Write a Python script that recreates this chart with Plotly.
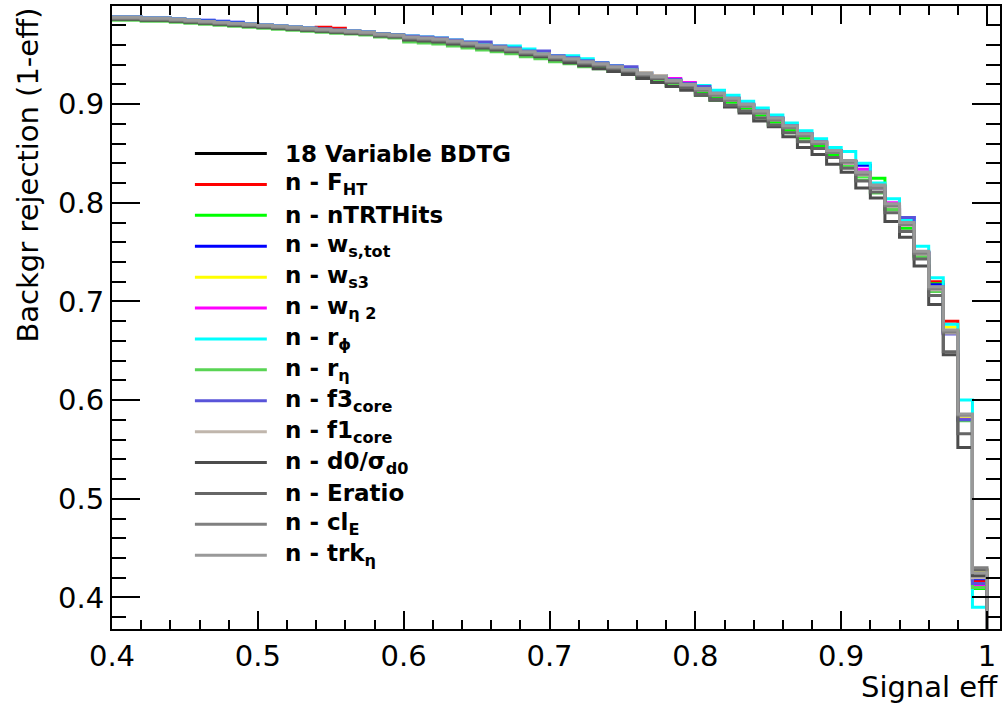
import plotly.graph_objects as go

# ROC-style curves: background rejection per signal-efficiency bin (0.40 ... 0.99, width 0.01)
bin_start = 0.40
bin_width = 0.01

bdtg18 = [0.988, 0.988, 0.987, 0.987, 0.986, 0.985, 0.984, 0.983, 0.982, 0.981,
          0.980, 0.979, 0.978, 0.977, 0.976, 0.975, 0.974, 0.973, 0.971, 0.970,
          0.968, 0.967, 0.966, 0.964, 0.962, 0.960, 0.958, 0.956, 0.953, 0.951,
          0.948, 0.946, 0.943, 0.941, 0.938, 0.935, 0.931, 0.928, 0.924, 0.920,
          0.915, 0.910, 0.905, 0.899, 0.892, 0.885, 0.877, 0.869, 0.861, 0.852,
          0.842, 0.830, 0.817, 0.798, 0.779, 0.750, 0.714, 0.670, 0.583, 0.418]
no_fht = [0.987, 0.987, 0.986, 0.986, 0.985, 0.984, 0.983, 0.982, 0.981, 0.980,
          0.979, 0.978, 0.977, 0.976, 0.978, 0.977, 0.973, 0.972, 0.970, 0.969,
          0.967, 0.967, 0.965, 0.964, 0.961, 0.960, 0.957, 0.956, 0.952, 0.951,
          0.947, 0.946, 0.942, 0.941, 0.937, 0.935, 0.930, 0.928, 0.923, 0.920,
          0.915, 0.910, 0.905, 0.899, 0.892, 0.885, 0.877, 0.869, 0.861, 0.852,
          0.842, 0.829, 0.815, 0.797, 0.778, 0.749, 0.720, 0.680, 0.584, 0.417]
no_ntrt = [0.986, 0.986, 0.985, 0.985, 0.984, 0.983, 0.982, 0.981, 0.980, 0.979,
           0.978, 0.977, 0.976, 0.975, 0.974, 0.973, 0.972, 0.971, 0.969, 0.968,
           0.965, 0.964, 0.963, 0.961, 0.959, 0.957, 0.955, 0.953, 0.950, 0.948,
           0.945, 0.943, 0.940, 0.938, 0.935, 0.932, 0.928, 0.925, 0.921, 0.917,
           0.912, 0.907, 0.902, 0.896, 0.889, 0.882, 0.874, 0.866, 0.858, 0.849,
           0.839, 0.827, 0.825, 0.794, 0.774, 0.746, 0.718, 0.670, 0.581, 0.409]
no_wstot = [0.988, 0.988, 0.987, 0.987, 0.986, 0.985, 0.985, 0.984, 0.983, 0.981,
            0.980, 0.979, 0.978, 0.977, 0.976, 0.975, 0.974, 0.973, 0.971, 0.970,
            0.968, 0.967, 0.966, 0.964, 0.962, 0.960, 0.958, 0.956, 0.953, 0.951,
            0.948, 0.946, 0.943, 0.941, 0.938, 0.935, 0.932, 0.928, 0.924, 0.920,
            0.916, 0.911, 0.906, 0.900, 0.893, 0.886, 0.878, 0.870, 0.862, 0.853,
            0.841, 0.838, 0.816, 0.798, 0.785, 0.750, 0.717, 0.668, 0.582, 0.419]
no_ws3 = [0.987, 0.987, 0.986, 0.986, 0.985, 0.984, 0.983, 0.982, 0.981, 0.980,
          0.979, 0.978, 0.977, 0.976, 0.975, 0.974, 0.973, 0.972, 0.970, 0.969,
          0.968, 0.967, 0.966, 0.964, 0.962, 0.960, 0.958, 0.956, 0.953, 0.951,
          0.948, 0.946, 0.943, 0.941, 0.938, 0.935, 0.931, 0.928, 0.924, 0.920,
          0.915, 0.910, 0.905, 0.899, 0.892, 0.885, 0.877, 0.869, 0.861, 0.852,
          0.841, 0.829, 0.816, 0.797, 0.778, 0.749, 0.714, 0.674, 0.583, 0.427]
no_weta2 = [0.987, 0.987, 0.986, 0.986, 0.985, 0.984, 0.983, 0.982, 0.981, 0.980,
            0.979, 0.978, 0.977, 0.976, 0.975, 0.974, 0.973, 0.972, 0.970, 0.969,
            0.967, 0.966, 0.965, 0.963, 0.961, 0.959, 0.957, 0.955, 0.952, 0.950,
            0.947, 0.945, 0.942, 0.940, 0.937, 0.934, 0.930, 0.927, 0.926, 0.922,
            0.915, 0.910, 0.905, 0.899, 0.892, 0.885, 0.877, 0.869, 0.861, 0.852,
            0.840, 0.834, 0.815, 0.800, 0.777, 0.748, 0.714, 0.668, 0.580, 0.412]
no_rphi = [0.988, 0.988, 0.987, 0.987, 0.986, 0.985, 0.984, 0.983, 0.982, 0.981,
           0.980, 0.979, 0.978, 0.977, 0.976, 0.975, 0.974, 0.973, 0.971, 0.970,
           0.969, 0.968, 0.967, 0.965, 0.963, 0.961, 0.959, 0.959, 0.956, 0.952,
           0.949, 0.949, 0.946, 0.942, 0.939, 0.936, 0.932, 0.929, 0.925, 0.921,
           0.919, 0.914, 0.909, 0.903, 0.896, 0.889, 0.881, 0.873, 0.865, 0.856,
           0.852, 0.840, 0.820, 0.804, 0.782, 0.756, 0.724, 0.677, 0.600, 0.390]
no_reta = [0.985, 0.985, 0.984, 0.984, 0.983, 0.982, 0.981, 0.980, 0.979, 0.978,
           0.977, 0.976, 0.975, 0.974, 0.973, 0.972, 0.971, 0.970, 0.968, 0.967,
           0.963, 0.962, 0.961, 0.959, 0.957, 0.955, 0.953, 0.951, 0.948, 0.946,
           0.943, 0.941, 0.938, 0.936, 0.933, 0.930, 0.926, 0.923, 0.919, 0.915,
           0.909, 0.904, 0.899, 0.893, 0.886, 0.879, 0.871, 0.863, 0.855, 0.846,
           0.836, 0.823, 0.810, 0.793, 0.772, 0.745, 0.710, 0.669, 0.579, 0.410]
no_f3core = [0.988, 0.988, 0.987, 0.987, 0.986, 0.985, 0.984, 0.983, 0.982, 0.981,
             0.980, 0.979, 0.978, 0.977, 0.976, 0.975, 0.974, 0.973, 0.971, 0.970,
             0.969, 0.968, 0.967, 0.965, 0.963, 0.963, 0.959, 0.957, 0.954, 0.954,
             0.949, 0.947, 0.944, 0.942, 0.939, 0.938, 0.932, 0.929, 0.925, 0.921,
             0.918, 0.911, 0.906, 0.900, 0.893, 0.886, 0.878, 0.870, 0.862, 0.853,
             0.842, 0.831, 0.815, 0.797, 0.785, 0.749, 0.715, 0.667, 0.580, 0.414]
no_f1core = [0.987, 0.987, 0.986, 0.986, 0.985, 0.984, 0.983, 0.982, 0.981, 0.980,
             0.979, 0.978, 0.977, 0.976, 0.975, 0.974, 0.973, 0.972, 0.970, 0.969,
             0.967, 0.966, 0.965, 0.963, 0.961, 0.959, 0.957, 0.955, 0.952, 0.950,
             0.947, 0.945, 0.942, 0.940, 0.937, 0.934, 0.932, 0.929, 0.923, 0.919,
             0.914, 0.909, 0.904, 0.898, 0.891, 0.884, 0.876, 0.868, 0.860, 0.851,
             0.840, 0.828, 0.815, 0.796, 0.777, 0.748, 0.712, 0.668, 0.584, 0.420]
no_d0 = [0.986, 0.986, 0.985, 0.985, 0.984, 0.983, 0.982, 0.981, 0.980, 0.979,
         0.978, 0.977, 0.976, 0.975, 0.974, 0.973, 0.972, 0.971, 0.969, 0.968,
         0.965, 0.964, 0.963, 0.961, 0.959, 0.957, 0.955, 0.953, 0.950, 0.948,
         0.945, 0.942, 0.939, 0.936, 0.933, 0.930, 0.926, 0.922, 0.918, 0.914,
         0.909, 0.904, 0.897, 0.891, 0.883, 0.877, 0.867, 0.856, 0.849, 0.839,
         0.831, 0.815, 0.805, 0.781, 0.765, 0.736, 0.697, 0.646, 0.552, 0.422]
no_eratio = [0.987, 0.987, 0.986, 0.986, 0.985, 0.984, 0.983, 0.982, 0.981, 0.980,
             0.979, 0.978, 0.977, 0.976, 0.975, 0.974, 0.973, 0.972, 0.970, 0.969,
             0.966, 0.965, 0.964, 0.962, 0.960, 0.958, 0.956, 0.954, 0.951, 0.949,
             0.946, 0.944, 0.941, 0.939, 0.936, 0.933, 0.929, 0.926, 0.922, 0.917,
             0.910, 0.905, 0.899, 0.893, 0.886, 0.879, 0.871, 0.862, 0.855, 0.846,
             0.835, 0.822, 0.811, 0.790, 0.771, 0.743, 0.706, 0.649, 0.566, 0.428]
no_cle = [0.987, 0.987, 0.986, 0.986, 0.985, 0.984, 0.983, 0.982, 0.981, 0.980,
          0.979, 0.978, 0.977, 0.976, 0.975, 0.974, 0.973, 0.972, 0.970, 0.969,
          0.967, 0.966, 0.965, 0.963, 0.961, 0.959, 0.957, 0.955, 0.952, 0.950,
          0.947, 0.945, 0.942, 0.940, 0.937, 0.934, 0.930, 0.927, 0.923, 0.919,
          0.914, 0.909, 0.904, 0.898, 0.891, 0.884, 0.876, 0.868, 0.860, 0.851,
          0.841, 0.829, 0.815, 0.797, 0.778, 0.749, 0.713, 0.669, 0.585, 0.430]
no_trketa = [0.988, 0.988, 0.987, 0.987, 0.986, 0.985, 0.984, 0.983, 0.982, 0.981,
             0.980, 0.979, 0.978, 0.977, 0.976, 0.975, 0.974, 0.973, 0.971, 0.970,
             0.968, 0.967, 0.966, 0.964, 0.962, 0.960, 0.958, 0.956, 0.953, 0.951,
             0.948, 0.946, 0.943, 0.941, 0.938, 0.935, 0.931, 0.928, 0.924, 0.920,
             0.916, 0.911, 0.906, 0.900, 0.893, 0.886, 0.878, 0.870, 0.862, 0.853,
             0.843, 0.831, 0.818, 0.799, 0.780, 0.751, 0.715, 0.671, 0.586, 0.425]

labels = ["18 Variable BDTG", "n - F<sub>HT</sub>", "n - nTRTHits", "n - w<sub>s,tot</sub>",
          "n - w<sub>s3</sub>", "n - w<sub>η 2</sub>", "n - r<sub>ϕ</sub>", "n - r<sub>η</sub>",
          "n - f3<sub>core</sub>", "n - f1<sub>core</sub>", "n - d0/σ<sub>d0</sub>",
          "n - Eratio", "n - cl<sub>E</sub>", "n - trk<sub>η</sub>"]
colors = ["#000000", "#ff0000", "#00ff00", "#0000ff", "#ffff00", "#ff00ff", "#00ffff",
          "#59d454", "#5954d9", "#c0b6ac", "#4c4c4c", "#666666", "#808080", "#999999"]
series = [bdtg18, no_fht, no_ntrt, no_wstot, no_ws3, no_weta2, no_rphi, no_reta,
          no_f3core, no_f1core, no_d0, no_eratio, no_cle, no_trketa]

edges = [round(bin_start + bin_width * k, 2) for k in range(len(bdtg18) + 1)]

fig = go.Figure()
for lab, col, vals in zip(labels, colors, series):
    # step outline like a ROOT histogram; last edge drops to zero
    fig.add_trace(go.Scatter(x=edges, y=vals + [0.0], mode='lines',
                             line=dict(color=col, width=3, shape='hv'),
                             name=lab, showlegend=False, hoverinfo='skip'))

font = "DejaVu Sans"
W, H = 1006, 709
ml, mr, mt, mb = 112, 5, 4, 80
pw, ph = W - ml - mr, H - mt - mb

def px(x):
    return (x - ml) / pw

def py(y):
    return (H - mb - y) / ph

# hand-made legend (ROOT style, long line samples)
for k, (lab, col) in enumerate(zip(labels, colors)):
    yc = 152 + 31 * k
    fig.add_shape(type='line', xref='paper', yref='paper',
                  x0=px(195), x1=px(267), y0=py(yc), y1=py(yc),
                  line=dict(color=col, width=3))
    fig.add_annotation(xref='paper', yref='paper', x=px(283), y=py(yc),
                       xanchor='left', yanchor='middle', showarrow=False,
                       text="<b>" + lab + "</b>",
                       font=dict(family=font, size=23, color='black'))

fig.add_annotation(xref='paper', yref='paper', x=px(27), y=1.0,
                   xanchor='center', yanchor='top', textangle=-90, showarrow=False,
                   text="Backgr rejection (1-eff)", font=dict(family=font, size=29, color='black'))
fig.add_annotation(xref='paper', yref='paper', x=1.0, y=py(687),
                   xanchor='right', yanchor='middle', showarrow=False,
                   text="Signal eff", font=dict(family=font, size=29, color='black'))

axis_common = dict(showline=True, linecolor='black', linewidth=2, mirror='allticks',
                   ticks='inside', tickcolor='black', tickwidth=2, showgrid=False,
                   zeroline=False, dtick=0.1, tick0=0,
                   tickfont=dict(family=font, size=29, color='black'))

fig.update_layout(
    width=W, height=H,
    margin=dict(l=ml, r=mr, t=mt, b=mb),
    paper_bgcolor='white', plot_bgcolor='white',
    xaxis=dict(range=[0.4, 1.0089], ticklen=18,
               minor=dict(ticks='inside', dtick=0.02, ticklen=9, tickwidth=2, tickcolor='black'),
               **axis_common),
    yaxis=dict(range=[0.368, 0.9995], ticklen=28,
               minor=dict(ticks='inside', dtick=0.02, ticklen=14, tickwidth=2, tickcolor='black'),
               **axis_common),
)

# page body has a default 8px margin; remove it so the figure sits at the window corner
fig.write_html("out.html", config={'displayModeBar': False},
               post_script="document.body.style.margin='0';")
